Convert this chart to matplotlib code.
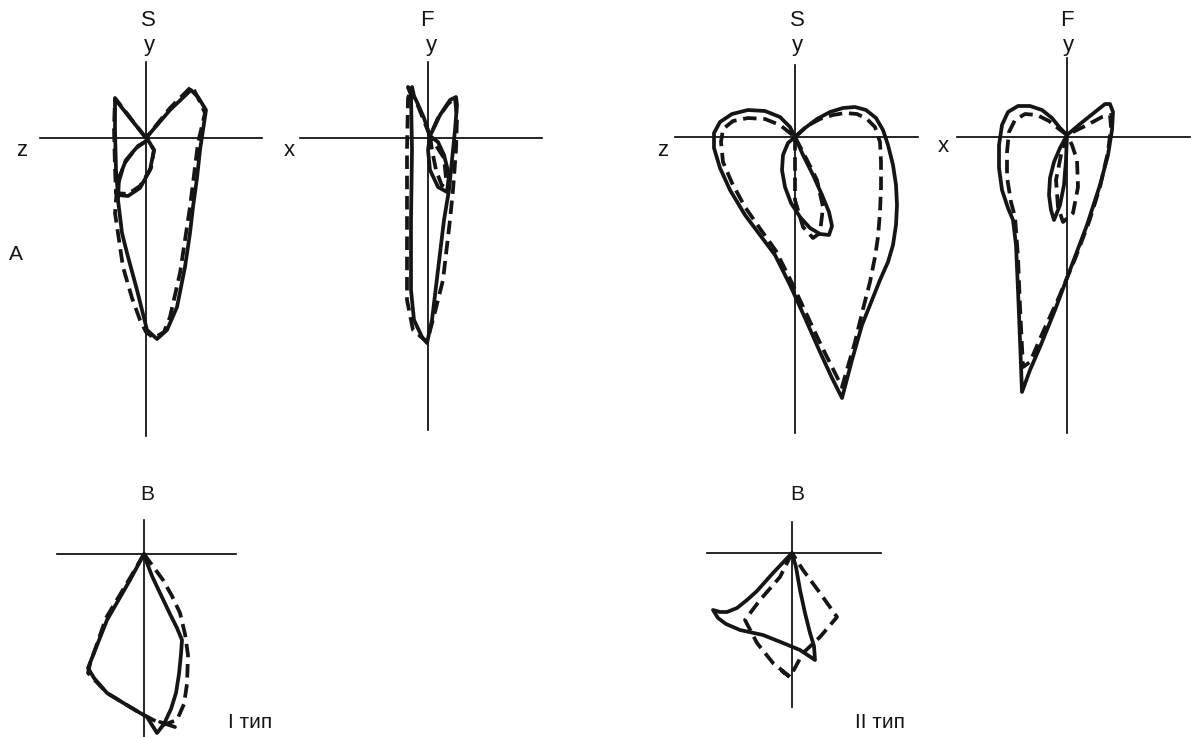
import matplotlib
matplotlib.use("Agg")
import matplotlib.pyplot as plt
import numpy as np

plt.rcParams["font.family"] = ["Liberation Sans", "DejaVu Sans"]

W, H = 1191, 737

# Loop coordinates, relative to each panel origin (x right, y up)
s1_solid = [(0, 0), (-16, 20), (-31, 39), (-31, 8), (-30, -32), (-28, -57), (-18, -58), (-6, -50),
            (4, -32), (8, -12), (2, -2), (-8, -8), (-20, -22), (-27, -40), (-28, -62), (-24, -95),
            (-19, -115), (-9, -152), (1, -192), (11, -201), (21, -192), (31, -169), (39, -129),
            (44, -95), (47, -69), (51, -40), (54, -12), (60, 28), (52, 41), (45, 48), (24, 28), (0, 0)]
s1_dash = [(0, 0), (-14, 18), (-31, 40), (-32, 10), (-31, -30), (-30, -55), (-18, -56), (-6, -48),
           (5, -30), (8, -12), (2, -2), (-10, -10), (-22, -26), (-29, -50), (-31, -75), (-23, -129),
           (-14, -160), (-6, -182), (0, -194), (8, -200), (18, -194), (24, -179), (34, -135),
           (44, -69), (52, -5), (59, 25), (54, 36), (46, 52), (24, 30), (0, 0)]

f1_solid = [(2, 2), (-4, 20), (-12, 38), (-20, 51), (-17, 43), (-16, -12), (-17, -82), (-17, -152),
            (-14, -182), (-6, -199), (-1, -205), (4, -182), (10, -132), (16, -82), (21, -52),
            (24, -22), (27, 8), (29, 33), (28, 41), (22, 38), (12, 23), (2, 2)]
f1_solid_inner = [(2, 2), (0, -12), (2, -32), (10, -49), (19, -54), (21, -37), (16, -17), (10, -4), (2, 2)]
f1_dash = [(2, 2), (-6, 22), (-14, 42), (-16, 51), (-20, 40), (-21, -12), (-21, -82), (-21, -162),
           (-15, -192), (-1, -204), (8, -170), (15, -142), (22, -82), (25, -52), (28, -12),
           (29, 20), (27, 40), (20, 34), (10, 20), (2, 2)]
f1_dash_inner = [(2, 2), (4, -12), (8, -32), (14, -48), (18, -40), (16, -20), (2, 2)]

s2_solid = [(0, 0), (10, 9), (22, 18), (35, 25), (48, 29), (60, 30), (71, 27), (81, 19), (88, 7),
            (93, -8), (98, -28), (101, -48), (102, -68), (101, -88), (98, -108), (93, -125),
            (85, -143), (75, -168), (67, -188), (57, -223), (47, -261), (37, -241), (25, -215),
            (10, -181), (-5, -148), (-20, -118), (-35, -98), (-50, -78), (-65, -53), (-75, -31),
            (-81, -11), (-81, 4), (-75, 15), (-63, 23), (-47, 27), (-30, 26), (-15, 20), (-5, 10), (0, 0)]
s2_solid_inner = [(0, 0), (-7, -6), (-12, -18), (-13, -33), (-10, -50), (-4, -66), (5, -80),
                  (15, -91), (25, -97), (34, -98), (37, -89), (34, -75), (27, -58), (18, -38),
                  (8, -18), (0, 0)]
s2_dash = [(0, 0), (12, 11), (25, 18), (38, 22), (50, 24), (62, 23), (72, 18), (80, 10), (85, -5),
           (86, -25), (86, -50), (85, -75), (83, -100), (80, -120), (75, -145), (68, -172),
           (60, -205), (47, -250), (38, -232), (26, -208), (11, -176), (-4, -144), (-19, -114),
           (-34, -93), (-50, -70), (-63, -46), (-72, -25), (-74, -5), (-72, 8), (-62, 16),
           (-47, 19), (-30, 18), (-15, 12), (0, 0)]
s2_dash_inner = [(0, 0), (0, -30), (0, -63), (8, -90), (18, -101), (25, -96), (28, -70),
                 (22, -43), (12, -23), (0, 0)]

f2_solid = [(0, 2), (-7, 9), (-15, 19), (-25, 27), (-37, 31), (-49, 31), (-59, 25), (-65, 12),
            (-68, -8), (-68, -31), (-65, -53), (-59, -71), (-54, -83), (-51, -108), (-49, -153),
            (-47, -203), (-45, -255), (-37, -233), (-27, -210), (-12, -173), (3, -133), (20, -88),
            (33, -48), (41, -18), (45, 7), (46, 25), (43, 33), (38, 33), (28, 25), (13, 13), (0, 2)]
f2_solid_inner = [(0, 2), (-7, -11), (-13, -25), (-17, -41), (-18, -58), (-16, -73), (-13, -83),
                  (-7, -68), (-3, -48), (-1, -23), (0, 2)]
f2_dash = [(0, 2), (-8, 8), (-18, 16), (-30, 22), (-42, 23), (-52, 17), (-58, 5), (-60, -15),
           (-60, -40), (-56, -65), (-52, -80), (-49, -120), (-47, -170), (-44, -230), (-37, -225),
           (-24, -195), (-8, -160), (8, -122), (22, -85), (33, -50), (41, -15), (44, 10),
           (43, 22), (35, 20), (20, 12), (0, 2)]
f2_dash_inner = [(0, 2), (-5, -13), (-11, -43), (-9, -70), (-4, -85), (6, -76), (11, -50),
                 (10, -23), (5, -8), (0, 2)]

b1_solid = [(0, 0), (-14, -26), (-37, -66), (-56, -114), (-50, -124), (-37, -139), (-14, -153),
            (3, -163), (13, -179), (20, -170), (27, -155), (32, -139), (35, -120), (37, -100),
            (38, -86), (33, -74), (26, -60), (16, -39), (8, -22), (3, -9), (0, 0)]
b1_tail = [(16, -168), (31, -173)]
b1_dash = [(0, 0), (-14, -24), (-38, -64), (-54, -110), (-56, -119), (-37, -139), (-4, -159),
           (19, -171), (33, -166), (40, -150), (43, -130), (44, -101), (41, -80), (36, -59),
           (28, -42), (19, -26), (0, 0)]

b2_solid = [(0, 0), (-19, -20), (-35, -38), (-45, -47), (-55, -55), (-65, -59), (-72, -59),
            (-79, -57), (-74, -65), (-66, -71), (-52, -77), (-29, -82), (-9, -90), (8, -97),
            (23, -107), (22, -93), (18, -80), (13, -60), (8, -37), (4, -14), (0, 0)]
b2_dash = [(0, 0), (-12, -24), (-32, -47), (-47, -67), (-35, -90), (-19, -110), (-2, -124),
           (-10, -118), (-2, -124), (11, -100), (28, -84), (45, -64), (28, -40), (11, -17), (0, 0)]

# panel: origin in pixels, axis extents (left, right, up, down), solid loops, dashed loops
panels = [
    ((146, 138), (106, 116, 76, 298), [s1_solid], [s1_dash]),
    ((428, 138), (128, 114, 76, 292), [f1_solid, f1_solid_inner], [f1_dash, f1_dash_inner]),
    ((795, 137), (120, 123, 72, 296), [s2_solid, s2_solid_inner], [s2_dash, s2_dash_inner]),
    ((1067, 137), (110, 123, 79, 296), [f2_solid, f2_solid_inner], [f2_dash, f2_dash_inner]),
    ((144, 554), (87, 92, 34, 183), [b1_solid, b1_tail], [b1_dash]),
    ((792, 553), (85, 89, 31, 154), [b2_solid], [b2_dash]),
]

fig = plt.figure(figsize=(W / 100, H / 100), dpi=100)

for (ox, oy), (left, right, up, down), solids, dashes in panels:
    pad = 6
    x0, x1 = ox - left - pad, ox + right + pad
    y0, y1 = oy - up - pad, oy + down + pad
    ax = fig.add_axes([x0 / W, 1 - y1 / H, (x1 - x0) / W, (y1 - y0) / H])
    ax.set_xlim(-left - pad, right + pad)
    ax.set_ylim(-down - pad, up + pad)
    ax.axis("off")
    ax.plot([-left, right], [0, 0], color="black", lw=1.2)
    ax.plot([0, 0], [-down, up], color="black", lw=1.2)
    for loop in solids:
        pts = np.array(loop)
        ax.plot(pts[:, 0], pts[:, 1], color="#151515", lw=2.7, solid_joinstyle="round",
                solid_capstyle="round")
    for loop in dashes:
        pts = np.array(loop)
        ax.plot(pts[:, 0], pts[:, 1], color="#151515", lw=2.7, linestyle=(0, (3.6, 1.8)))


def label(x, y, s, size=16):
    fig.text(x / W, 1 - y / H, s, ha="center", va="center", fontsize=size, color="#151515")


label(148, 20, "S")
label(149, 45, "y")
label(427, 20, "F")
label(431, 45, "y")
label(22, 151, "z")
label(289, 151, "x")
label(16, 254, "A", 15)
label(797, 20, "S")
label(797, 45, "y")
label(663, 151, "z")
label(1067, 20, "F")
label(1068, 45, "y")
label(943, 147, "x")
label(147, 495, "B", 15)
label(797, 495, "B", 15)
label(250, 723, "I тип", 15)
label(880, 723, "II тип", 15)

fig.savefig("out.png", dpi=100)
